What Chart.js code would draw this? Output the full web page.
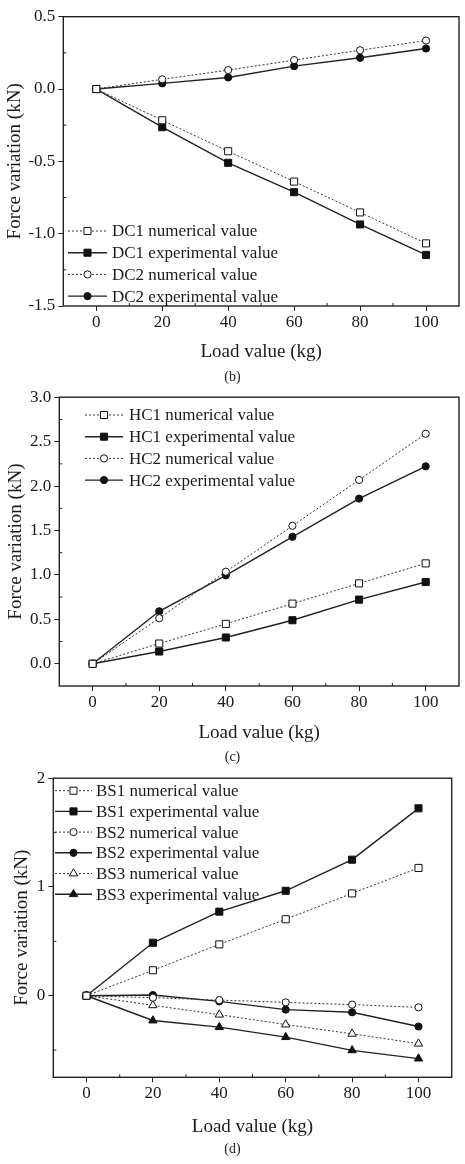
<!DOCTYPE html>
<html>
<head>
<meta charset="utf-8">
<script src="https://cdn.jsdelivr.net/npm/chart.js@4.4.1/dist/chart.umd.min.js"></script>
<style>
  body { margin: 0; background: #fff; width: 465px; height: 1164px; position: relative; overflow: hidden; }
  canvas { position: absolute; left: 0; }
  .cap { position: absolute; left: 0; width: 465px; text-align: center; font: 14px "Liberation Serif", "DejaVu Serif", serif; color: #222; }
</style>
</head>
<body>
<canvas id="chartB" width="465" height="370" style="top:0px"></canvas>
<div class="cap" style="top:369px">(b)</div>
<canvas id="chartC" width="465" height="362" style="top:384px"></canvas>
<div class="cap" style="top:749px">(c)</div>
<canvas id="chartD" width="465" height="375" style="top:765px"></canvas>
<div class="cap" style="top:1141px">(d)</div>

<script>
// x values shared by every panel
const loads = [0, 20, 40, 60, 80, 100];
const xTicks = [0, 20, 40, 60, 80, 100];
const xMinor = [10, 30, 50, 70, 90];

// panel (b)
const bLabels = ["DC1 numerical value", "DC1 experimental value", "DC2 numerical value", "DC2 experimental value"];
const dc1Num = [0, -0.216, -0.43, -0.64, -0.853, -1.067];
const dc1Exp = [0, -0.264, -0.51, -0.713, -0.936, -1.147];
const dc2Num = [0, 0.067, 0.131, 0.2, 0.268, 0.335];
const dc2Exp = [0, 0.039, 0.08, 0.158, 0.216, 0.28];
const bYTicks = [-1.5, -1.0, -0.5, 0.0, 0.5];
const bYTickLabels = ["-1.5", "-1.0", "-0.5", "0.0", "0.5"];
const bYMinor = [-1.25, -0.75, -0.25, 0.25];

// panel (c)
const cLabels = ["HC1 numerical value", "HC1 experimental value", "HC2 numerical value", "HC2 experimental value"];
const hc1Num = [0, 0.228, 0.449, 0.677, 0.905, 1.13];
const hc1Exp = [0, 0.138, 0.296, 0.49, 0.722, 0.92];
const hc2Num = [0, 0.513, 1.036, 1.553, 2.069, 2.589];
const hc2Exp = [0, 0.591, 0.995, 1.429, 1.859, 2.222];
const cYTicks = [0.0, 0.5, 1.0, 1.5, 2.0, 2.5, 3.0];
const cYTickLabels = ["0.0", "0.5", "1.0", "1.5", "2.0", "2.5", "3.0"];
const cYMinor = [0.25, 0.75, 1.25, 1.75, 2.25, 2.75];

// panel (d)
const dLabels = ["BS1 numerical value", "BS1 experimental value", "BS2 numerical value",
                 "BS2 experimental value", "BS3 numerical value", "BS3 experimental value"];
const bs1Num = [0, 0.234, 0.472, 0.703, 0.941, 1.175];
const bs1Exp = [0, 0.487, 0.773, 0.965, 1.251, 1.723];
const bs2Num = [0, -0.018, -0.04, -0.061, -0.082, -0.107];
const bs2Exp = [0, 0.006, -0.052, -0.128, -0.152, -0.283];
const bs3Num = [0, -0.088, -0.174, -0.265, -0.35, -0.441];
const bs3Exp = [0, -0.228, -0.289, -0.381, -0.502, -0.578];
const dYTicks = [0, 1, 2];
const dYTickLabels = ["0", "1", "2"];
const dYMinor = [-0.5, 0.5, 1.5];

const SERIF = '"Liberation Serif", "DejaVu Serif", serif';
const INK = "#1a1a1a";

const markerSize = { rect: 5, circle: 3.6, triangle: 4.8 };

function series(label, values, shape, numerical) {
  return {
    label: label,
    data: loads.map((x, i) => ({ x: x, y: values[i] })),
    borderColor: numerical ? "#333" : "#222",
    borderWidth: numerical ? 1 : 1.4,
    borderDash: numerical ? [2, 2] : [],
    pointStyle: shape,
    pointRadius: markerSize[shape],
    pointBorderWidth: 1,
    pointBorderColor: "#111",
    pointBackgroundColor: numerical ? "#fff" : "#111",
    tension: 0,
    fill: false
  };
}

// frame, minor ticks and inside legend
const framePlugin = {
  id: "frameLegend",
  afterDraw(chart, args, opts) {
    const { ctx, chartArea: a, scales } = chart;
    ctx.save();
    ctx.strokeStyle = "#222";
    ctx.lineWidth = 1.4;
    ctx.strokeRect(a.left, a.top, a.right - a.left, a.bottom - a.top);
    ctx.lineWidth = 1;
    ctx.beginPath();
    xMinor.forEach(v => {
      const px = scales.x.getPixelForValue(v);
      ctx.moveTo(px, a.bottom);
      ctx.lineTo(px, a.bottom - 3);
    });
    opts.yMinor.forEach(v => {
      const py = scales.y.getPixelForValue(v);
      ctx.moveTo(a.left, py);
      ctx.lineTo(a.left + 3, py);
    });
    ctx.stroke();

    chart.data.datasets.forEach((ds, i) => {
      const y = opts.y + i * opts.rowH;
      ctx.strokeStyle = ds.borderColor;
      ctx.lineWidth = ds.borderWidth;
      ctx.setLineDash(ds.borderDash);
      ctx.beginPath();
      ctx.moveTo(opts.x, y);
      ctx.lineTo(opts.x + opts.lineLen, y);
      ctx.stroke();
      ctx.setLineDash([]);
      ctx.fillStyle = ds.pointBackgroundColor;
      ctx.strokeStyle = ds.pointBorderColor;
      ctx.lineWidth = 1;
      Chart.helpers.drawPoint(ctx, { pointStyle: ds.pointStyle, radius: ds.pointRadius, rotation: 0, borderWidth: 1 },
        opts.x + opts.lineLen / 2, y);
      ctx.fillStyle = INK;
      ctx.font = "17px " + SERIF;
      ctx.textAlign = "left";
      ctx.textBaseline = "middle";
      ctx.fillText(ds.label, opts.x + opts.lineLen + opts.gap, y + 1);
    });
    ctx.restore();
  }
};

function makeChart(id, datasets, y, box, legend) {
  const canvas = document.getElementById(id);
  const H = canvas.height;
  return new Chart(canvas, {
    type: "line",
    data: { datasets: datasets },
    options: {
      responsive: false,
      animation: false,
      devicePixelRatio: 1,
      layout: { padding: { left: 0, top: box.top, right: 465 - box.right, bottom: 0 } },
      plugins: {
        legend: { display: false },
        tooltip: { enabled: false },
        frameLegend: Object.assign({ yMinor: y.minor }, legend)
      },
      scales: {
        x: {
          type: "linear",
          min: -10,
          max: 110,
          afterBuildTicks: s => { s.ticks = xTicks.map(v => ({ value: v })); },
          afterFit: s => { s.height = H - box.bottom; },
          grid: { drawOnChartArea: false, drawTicks: true, tickLength: 5, color: "#222" },
          border: { display: false },
          ticks: { font: { family: SERIF, size: 17 }, color: INK, padding: 1, maxRotation: 0, autoSkip: false },
          title: { display: true, text: "Load value (kg)", font: { family: SERIF, size: 19 }, color: INK,
                   padding: { top: 0, bottom: box.xTitlePad } }
        },
        y: {
          type: "linear",
          min: y.min,
          max: y.max,
          afterBuildTicks: s => { s.ticks = y.ticks.map(v => ({ value: v })); },
          afterFit: s => { s.width = box.left; },
          grid: { drawOnChartArea: false, drawTicks: true, tickLength: 5, color: "#222" },
          border: { display: false },
          ticks: {
            font: { family: SERIF, size: 17 }, color: INK, padding: 3, autoSkip: false,
            callback: v => y.labels[y.ticks.indexOf(v)]
          },
          title: { display: true, text: "Force variation (kN)", font: { family: SERIF, size: 19 }, color: INK,
                   padding: { top: box.yTitlePad, bottom: 0 } }
        }
      }
    },
    plugins: [framePlugin]
  });
}

makeChart("chartB", [
  series(bLabels[0], dc1Num, "rect", true),
  series(bLabels[1], dc1Exp, "rect", false),
  series(bLabels[2], dc2Num, "circle", true),
  series(bLabels[3], dc2Exp, "circle", false)
], { min: -1.5, max: 0.5, ticks: bYTicks, labels: bYTickLabels, minor: bYMinor },
   { left: 63.3, top: 16.7, right: 459, bottom: 306, xTitlePad: 6.6, yTitlePad: 3.6 },
   { x: 68, y: 231, rowH: 21.7, lineLen: 39, gap: 5 });

makeChart("chartC", [
  series(cLabels[0], hc1Num, "rect", true),
  series(cLabels[1], hc1Exp, "rect", false),
  series(cLabels[2], hc2Num, "circle", true),
  series(cLabels[3], hc2Exp, "circle", false)
], { min: -0.25, max: 3.0, ticks: cYTicks, labels: cYTickLabels, minor: cYMinor },
   { left: 59.3, top: 12.7, right: 459, bottom: 302, xTitlePad: 1.9, yTitlePad: 4.3 },
   { x: 85, y: 31, rowH: 21.7, lineLen: 38, gap: 6 });

makeChart("chartD", [
  series(dLabels[0], bs1Num, "rect", true),
  series(dLabels[1], bs1Exp, "rect", false),
  series(dLabels[2], bs2Num, "circle", true),
  series(dLabels[3], bs2Exp, "circle", false),
  series(dLabels[4], bs3Num, "triangle", true),
  series(dLabels[5], bs3Exp, "triangle", false)
], { min: -0.75, max: 2.0, ticks: dYTicks, labels: dYTickLabels, minor: dYMinor },
   { left: 53.3, top: 11.7, right: 451.7, bottom: 312.3, xTitlePad: 1.9, yTitlePad: 10.6 },
   { x: 55, y: 25.7, rowH: 20.7, lineLen: 37, gap: 4 });
</script>
</body>
</html>
